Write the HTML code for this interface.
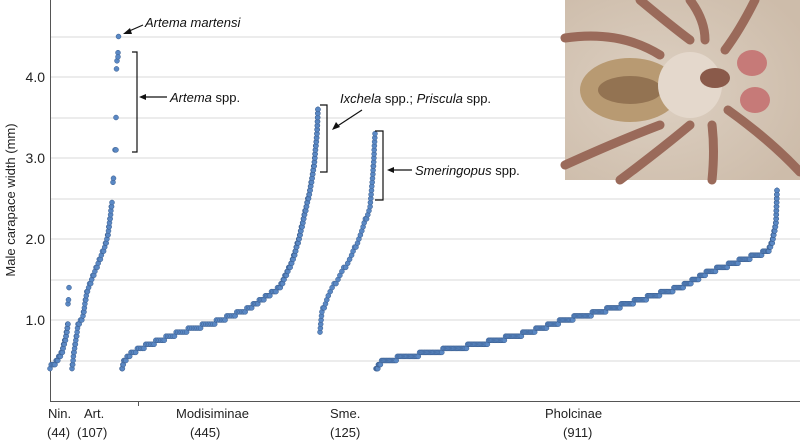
<!DOCTYPE html>
<html><head><meta charset="utf-8"><style>
body{margin:0;background:#fff;}
svg{display:block;font-family:"Liberation Sans",Arial,sans-serif;}
</style></head><body>
<svg id="s" width="800" height="447" viewBox="0 0 800 447" xmlns="http://www.w3.org/2000/svg">
<defs>
<radialGradient id="pg" cx="0.4" cy="0.5" r="0.7">
<stop offset="0" stop-color="#ddd0c2"/><stop offset="1" stop-color="#cdbcaa"/>
</radialGradient>
</defs>
<g stroke="#d9d9d9" stroke-width="1">
<line x1="50" x2="800" y1="361" y2="361"/><line x1="50" x2="800" y1="320" y2="320"/>
<line x1="50" x2="800" y1="280" y2="280"/><line x1="50" x2="800" y1="239" y2="239"/>
<line x1="50" x2="800" y1="199" y2="199"/><line x1="50" x2="800" y1="158" y2="158"/>
<line x1="50" x2="800" y1="118" y2="118"/><line x1="50" x2="800" y1="77" y2="77"/>
<line x1="50" x2="800" y1="37" y2="37"/>
</g>
<line x1="50.5" y1="0" x2="50.5" y2="401" stroke="#555" stroke-width="1"/>
<line x1="50" y1="401.5" x2="800" y2="401.5" stroke="#555" stroke-width="1"/>
<line x1="138.5" y1="401" x2="138.5" y2="406" stroke="#555"/>
<g font-size="14" fill="#222" text-anchor="end">
<text x="45" y="325">1.0</text><text x="45" y="244">2.0</text>
<text x="45" y="163">3.0</text><text x="45" y="82">4.0</text>
</g>
<text transform="translate(15,200) rotate(-90)" font-size="13" fill="#222" text-anchor="middle">Male carapace width (mm)</text>
<g font-size="13" fill="#222">
<text x="48" y="418">Nin.</text><text x="47" y="437">(44)</text>
<text x="84" y="418">Art.</text><text x="77" y="437">(107)</text>
<text x="176" y="418">Modisiminae</text><text x="190" y="437">(445)</text>
<text x="330" y="418">Sme.</text><text x="330" y="437">(125)</text>
<text x="545" y="418">Pholcinae</text><text x="563" y="437">(911)</text>
</g>
<g id="pts"></g>
<g stroke="#111" stroke-width="1.2" fill="none">
<path d="M132,52 H137 V152 H132"/>
<path d="M320,105 H327 V172 H320"/>
<path d="M375,131 H383 V200 H375"/>
<line x1="143" y1="25" x2="127" y2="32"/>
<line x1="167" y1="97" x2="143" y2="97"/>
<line x1="362" y1="110" x2="336" y2="127"/>
<line x1="412" y1="170" x2="391" y2="170"/>
</g>
<g fill="#111">
<polygon points="123,34 130,28 132,34"/>
<polygon points="139,97 146,94 146,100"/>
<polygon points="332,130 336,122 340,127"/>
<polygon points="387,170 394,167 394,173"/>
</g>
<g font-size="13" fill="#111" font-style="italic">
<text x="145" y="27">Artema martensi</text>
<text x="170" y="102">Artema <tspan font-style="normal">spp.</tspan></text>
<text x="340" y="103">Ixchela <tspan font-style="normal">spp.;</tspan> Priscula <tspan font-style="normal">spp.</tspan></text>
<text x="415" y="175">Smeringopus <tspan font-style="normal">spp.</tspan></text>
</g>
<g>
<rect x="565" y="0" width="235" height="180" fill="url(#pg)"/>
<g stroke="#9a6a5a" stroke-width="9" stroke-linecap="round" fill="none">
<path d="M565,38 Q620,30 660,55"/><path d="M640,0 Q670,25 690,40"/>
<path d="M690,0 Q705,20 705,40"/><path d="M755,0 Q740,30 725,50"/>
<path d="M565,165 Q620,140 660,125"/><path d="M620,180 Q660,150 690,125"/>
<path d="M712,125 Q715,150 712,180"/><path d="M728,110 Q770,140 800,172"/>
</g>
<ellipse cx="630" cy="90" rx="50" ry="32" fill="#b89a72"/>
<ellipse cx="630" cy="90" rx="32" ry="14" fill="#7a5a3e" opacity="0.6"/>
<ellipse cx="690" cy="85" rx="32" ry="33" fill="#e4d8cc"/>
<ellipse cx="715" cy="78" rx="15" ry="10" fill="#8a5a4a"/>
<ellipse cx="752" cy="63" rx="15" ry="13" fill="#c67a78"/>
<ellipse cx="755" cy="100" rx="15" ry="13" fill="#c67a78"/>
</g>
</svg>
<script>
var g=document.getElementById('pts');
function y(v){return 401-81*v;}
function series(ctrl,n){
 var out=[];var tot=0,seg=[];
 for(var i=1;i<ctrl.length;i++){var d=Math.hypot(ctrl[i][0]-ctrl[i-1][0],y(ctrl[i][1])-y(ctrl[i-1][1]));seg.push(d);tot+=d;}
 for(var k=0;k<=n;k++){var t=tot*k/n,j=0;while(j<seg.length-1&&t>seg[j]){t-=seg[j];j++;}
  var f=Math.min(1,t/seg[j]);var a=ctrl[j],b=ctrl[j+1];
  var v=a[1]+(b[1]-a[1])*f;v=Math.round(v*20)/20;
  out.push([a[0]+(b[0]-a[0])*f,v]);}
 return out;}
var all=[];
all=all.concat(series([[50,0.42],[56,0.48],[62,0.6],[66,0.8],[68,0.95]],30));
all=all.concat([[68,1.2],[68.5,1.25],[69,1.4]]);
all=all.concat(series([[72,0.4],[74,0.6],[78,0.93],[83,1.05],[87,1.35],[95,1.6],[105,1.9],[108,2.05],[112,2.45]],60));
all=all.concat([[113,2.7],[113.5,2.75],[115,3.1],[116,3.1],[116,3.5],[116.5,4.1],[117,4.2],[118,4.3],[118,4.25],[118.5,4.5]]);
all=all.concat(series([[122,0.4],[124,0.5],[132,0.6],[150,0.7],[180,0.85],[222,1.0],[250,1.15],[280,1.4],[293,1.75],[300,2.05],[310,2.6],[314,2.9],[317,3.3],[318,3.6]],200));
all=all.concat(series([[320,0.85],[322,1.1],[328,1.3],[340,1.55],[352,1.8],[362,2.1],[370,2.4],[373,2.8],[375,3.3]],55));
all=all.concat(series([[376,0.38],[380,0.47],[395,0.52],[430,0.6],[480,0.7],[530,0.85],[565,1.0],[600,1.1],[640,1.25],[680,1.4],[710,1.6],[745,1.75],[768,1.85],[772,1.95],[776,2.2],[777,2.6]],380));
var h='';
all.forEach(function(p){h+='<circle cx="'+p[0].toFixed(1)+'" cy="'+y(p[1]).toFixed(1)+'" r="2.5" fill="#5a88c4" stroke="#3a5d8e" stroke-width="0.5"/>';});
g.innerHTML=h;
</script>
</body></html>
